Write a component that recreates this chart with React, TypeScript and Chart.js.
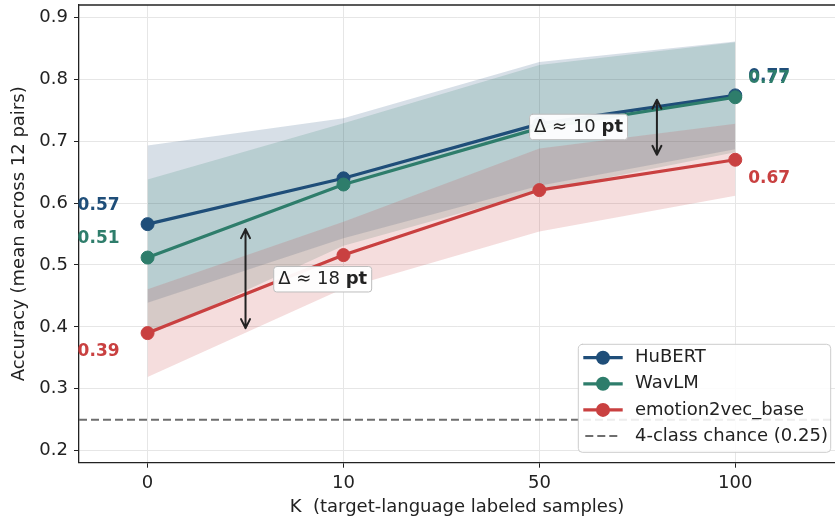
import React, { useEffect, useRef } from "react";
import { Chart, registerables } from "chart.js";

Chart.register(...registerables);

// ---------------- data ----------------
const kLabels = ["0", "10", "50", "100"];
const kPositions = [0, 1, 2, 3];

const hubertMean = [0.566, 0.640, 0.728, 0.774];
const hubertStd = [0.127, 0.097, 0.100, 0.087];

const wavlmMean = [0.512, 0.630, 0.721, 0.771];
const wavlmStd = [0.126, 0.099, 0.102, 0.089];

const e2vMean = [0.390, 0.516, 0.621, 0.670];
const e2vStd = [0.071, 0.054, 0.067, 0.058];

const chanceLevel = 0.25;
const yTickValues = [0.2, 0.3, 0.4, 0.5, 0.6, 0.7, 0.8, 0.9];

const seriesNames = ["HuBERT", "WavLM", "emotion2vec_base"];
const chanceName = "4-class chance (0.25)";
const xTitle = "K  (target-language labeled samples)";
const yTitle = "Accuracy (mean across 12 pairs)";

// gap annotations: arrow x, arrow top/bottom values, label box centre, text
const gapArrowX = [0.5, 2.6];
const gapArrowTop = [0.558, 0.767];
const gapArrowBottom = [0.398, 0.678];
const gapBoxX = [0.894, 2.2];
const gapBoxY = [0.477, 0.723];
const gapValues = ["18", "10"];

// ---------------- styles ----------------
const FONT = "'DejaVu Sans', sans-serif";
const BLUE = "#1f4e79";
const TEAL = "#2e7d6b";
const RED = "#c94040";
const SPINE = "#222222";
const GRID = "#e6e6e6";
const CHANCE = "#6e6e6e";

const hexA = (hex: string, a: number) => {
  const r = parseInt(hex.slice(1, 3), 16);
  const g = parseInt(hex.slice(3, 5), 16);
  const b = parseInt(hex.slice(5, 7), 16);
  return `rgba(${r},${g},${b},${a})`;
};

const pts = (vals: number[]) => kPositions.map((x, i) => ({ x, y: vals[i] }));
const band = (m: number[], s: number[], sign: number) =>
  kPositions.map((x, i) => ({ x, y: m[i] + sign * s[i] }));

const series = [
  { name: seriesNames[0], mean: hubertMean, std: hubertStd, color: BLUE, dy: 0.03 },
  { name: seriesNames[1], mean: wavlmMean, std: wavlmStd, color: TEAL, dy: 0.03 },
  { name: seriesNames[2], mean: e2vMean, std: e2vStd, color: RED, dy: -0.03 },
];

const X_MIN = -0.35;
const X_MAX = 3.509;

const overlayPlugin = {
  id: "overlay",
  afterDraw(chart: any) {
    const ctx = chart.ctx as CanvasRenderingContext2D;
    const xs = chart.scales.x;
    const ys = chart.scales.y;
    const ca = chart.chartArea;
    ctx.save();

    // top spine
    ctx.strokeStyle = SPINE;
    ctx.lineWidth = 1.3;
    ctx.beginPath();
    ctx.moveTo(ca.left, ca.top);
    ctx.lineTo(ca.right, ca.top);
    ctx.stroke();

    // value labels at first and last K
    ctx.font = `bold 17px ${FONT}`;
    ctx.textBaseline = "middle";
    series.forEach((s) => {
      ctx.fillStyle = s.color;
      const first = s.mean[0];
      const last = s.mean[s.mean.length - 1];
      ctx.textAlign = "right";
      ctx.fillText(first.toFixed(2), xs.getPixelForValue(kPositions[0] - 0.143), ys.getPixelForValue(first + s.dy));
      ctx.textAlign = "left";
      ctx.fillText(
        last.toFixed(2),
        xs.getPixelForValue(kPositions[kPositions.length - 1] + 0.066),
        ys.getPixelForValue(last + s.dy)
      );
    });

    // double-headed arrows
    ctx.strokeStyle = "#222";
    ctx.lineWidth = 2;
    ctx.lineCap = "round";
    ctx.lineJoin = "round";
    gapArrowX.forEach((ax, i) => {
      const x = xs.getPixelForValue(ax);
      const y1 = ys.getPixelForValue(gapArrowTop[i]);
      const y2 = ys.getPixelForValue(gapArrowBottom[i]);
      const hl = 9;
      const hw = 4.5;
      ctx.beginPath();
      ctx.moveTo(x, y1);
      ctx.lineTo(x, y2);
      ctx.moveTo(x - hw, y1 + hl);
      ctx.lineTo(x, y1);
      ctx.lineTo(x + hw, y1 + hl);
      ctx.moveTo(x - hw, y2 - hl);
      ctx.lineTo(x, y2);
      ctx.lineTo(x + hw, y2 - hl);
      ctx.stroke();
    });

    // gap label boxes
    gapValues.forEach((v, i) => {
      const cx = xs.getPixelForValue(gapBoxX[i]);
      const cy = ys.getPixelForValue(gapBoxY[i]);
      const t1 = `Δ ≈ ${v} `;
      const t2 = "pt";
      ctx.font = `18px ${FONT}`;
      const w1 = ctx.measureText(t1).width;
      ctx.font = `bold 18px ${FONT}`;
      const w2 = ctx.measureText(t2).width;
      const W = w1 + w2;
      const bw = W + 9;
      const bh = 25.5;
      const bx = cx - bw / 2;
      const by = cy - bh / 2;
      ctx.beginPath();
      (ctx as any).roundRect(bx, by, bw, bh, 3);
      ctx.fillStyle = "rgba(255,255,255,0.95)";
      ctx.fill();
      ctx.strokeStyle = "#bdbdbd";
      ctx.lineWidth = 1;
      ctx.stroke();
      ctx.fillStyle = "#222";
      ctx.textAlign = "left";
      ctx.textBaseline = "middle";
      ctx.font = `18px ${FONT}`;
      ctx.fillText(t1, cx - W / 2, cy + 0.5);
      ctx.font = `bold 18px ${FONT}`;
      ctx.fillText(t2, cx - W / 2 + w1, cy + 0.5);
    });

    // legend
    const lw = 252.4;
    const lh = 108;
    const lx = ca.right - 4.3 - lw;
    const ly = ca.bottom - 10.4 - lh;
    ctx.beginPath();
    (ctx as any).roundRect(lx, ly, lw, lh, 4);
    ctx.fillStyle = "rgba(255,255,255,0.88)";
    ctx.fill();
    ctx.strokeStyle = "#cccccc";
    ctx.lineWidth = 1;
    ctx.stroke();
    const rowY = (i: number) => ly + 13.4 + i * 26.1;
    const sx1 = lx + 5;
    const sx2 = lx + 44.4;
    const sxm = (sx1 + sx2) / 2;
    series.forEach((s, i) => {
      const y = rowY(i);
      ctx.strokeStyle = s.color;
      ctx.lineWidth = 3.2;
      ctx.lineCap = "butt";
      ctx.setLineDash([]);
      ctx.beginPath();
      ctx.moveTo(sx1, y);
      ctx.lineTo(sx2, y);
      ctx.stroke();
      ctx.fillStyle = s.color;
      ctx.beginPath();
      ctx.arc(sxm, y, 7, 0, Math.PI * 2);
      ctx.fill();
    });
    {
      const y = rowY(3);
      ctx.strokeStyle = CHANCE;
      ctx.lineWidth = 2;
      ctx.setLineDash([8, 4]);
      ctx.beginPath();
      ctx.moveTo(sx1 + 2, y);
      ctx.lineTo(sx1 + 34, y);
      ctx.stroke();
      ctx.setLineDash([]);
    }
    ctx.fillStyle = "#222";
    ctx.font = `18px ${FONT}`;
    ctx.textAlign = "left";
    ctx.textBaseline = "middle";
    [...seriesNames, chanceName].forEach((t, i) => {
      ctx.fillText(t, lx + 56.7, rowY(i));
    });

    ctx.restore();
  },
};

export default function App() {
  const ref = useRef<HTMLCanvasElement | null>(null);

  useEffect(() => {
    if (!ref.current) return;

    const lineDs = (s: any) => ({
      label: s.name,
      data: pts(s.mean),
      borderColor: s.color,
      backgroundColor: s.color,
      borderWidth: 3.2,
      pointRadius: 6.5,
      pointBorderWidth: 1,
      pointBackgroundColor: s.color,
      pointBorderColor: s.color,
      fill: false,
      tension: 0,
    });
    const bandDs = (s: any) => [
      {
        label: s.name + " upper",
        data: band(s.mean, s.std, 1),
        borderColor: "transparent",
        borderWidth: 0,
        pointRadius: 0,
        backgroundColor: hexA(s.color, 0.18),
        fill: "+1",
        tension: 0,
      },
      {
        label: s.name + " lower",
        data: band(s.mean, s.std, -1),
        borderColor: "transparent",
        borderWidth: 0,
        pointRadius: 0,
        backgroundColor: "transparent",
        fill: false,
        tension: 0,
      },
    ];

    // index 0 is drawn on top
    const datasets: any[] = [
      lineDs(series[2]),
      lineDs(series[1]),
      lineDs(series[0]),
      {
        label: chanceName,
        data: [
          { x: X_MIN, y: chanceLevel },
          { x: X_MAX, y: chanceLevel },
        ],
        borderColor: CHANCE,
        borderWidth: 2,
        borderDash: [8, 4],
        pointRadius: 0,
        fill: false,
      },
      ...bandDs(series[2]),
      ...bandDs(series[1]),
      ...bandDs(series[0]),
    ];

    const chart = new Chart(ref.current, {
      type: "line",
      data: { datasets },
      options: {
        animation: false,
        responsive: false,
        devicePixelRatio: 1,
        events: [],
        layout: { autoPadding: false, padding: { top: 5, right: 0, left: 0, bottom: 0 } },
        plugins: {
          legend: { display: false },
          tooltip: { enabled: false },
          title: { display: false },
        },
        scales: {
          x: {
            type: "linear",
            min: X_MIN,
            max: X_MAX,
            afterBuildTicks: (axis: any) => {
              axis.ticks = kPositions.map((v) => ({ value: v }));
            },
            afterFit: (axis: any) => {
              axis.height = 55.3;
              axis.paddingLeft = 0;
              axis.paddingRight = 0;
            },
            ticks: {
              autoSkip: false,
              maxRotation: 0,
              padding: 4.5,
              color: "#222",
              font: { family: FONT, size: 18 },
              callback: (v: any) => {
                const i = kPositions.indexOf(Number(v));
                return i >= 0 ? kLabels[i] : "";
              },
            },
            grid: { color: GRID, lineWidth: 1, tickLength: 5, tickColor: SPINE, drawTicks: true },
            border: { display: true, color: SPINE, width: 1.3 },
            title: {
              display: true,
              text: xTitle,
              color: "#222",
              font: { family: FONT, size: 18 },
              padding: { top: 0, bottom: 0 },
            },
          },
          y: {
            type: "linear",
            min: 0.1806,
            max: 0.92,
            afterBuildTicks: (axis: any) => {
              axis.ticks = yTickValues.map((v) => ({ value: v }));
            },
            afterFit: (axis: any) => {
              axis.width = 79;
              axis.paddingTop = 0;
              axis.paddingBottom = 0;
            },
            ticks: {
              padding: 6,
              color: "#222",
              font: { family: FONT, size: 18 },
              callback: (v: any) => Number(v).toFixed(1),
            },
            grid: { color: GRID, lineWidth: 1, tickLength: 5, tickColor: SPINE, drawTicks: true },
            border: { display: true, color: SPINE, width: 1.3 },
            title: {
              display: true,
              text: yTitle,
              color: "#222",
              font: { family: FONT, size: 18 },
              padding: { top: 9, bottom: 0 },
            },
          },
        },
      },
      plugins: [overlayPlugin],
    });

    return () => chart.destroy();
  }, []);

  return (
    <div
      style={{
        position: "fixed",
        left: 0,
        top: 0,
        width: 835,
        height: 518,
        overflow: "hidden",
        background: "#fff",
      }}
    >
      <canvas ref={ref} width={835} height={518} style={{ width: 835, height: 518, display: "block" }} />
    </div>
  );
}
